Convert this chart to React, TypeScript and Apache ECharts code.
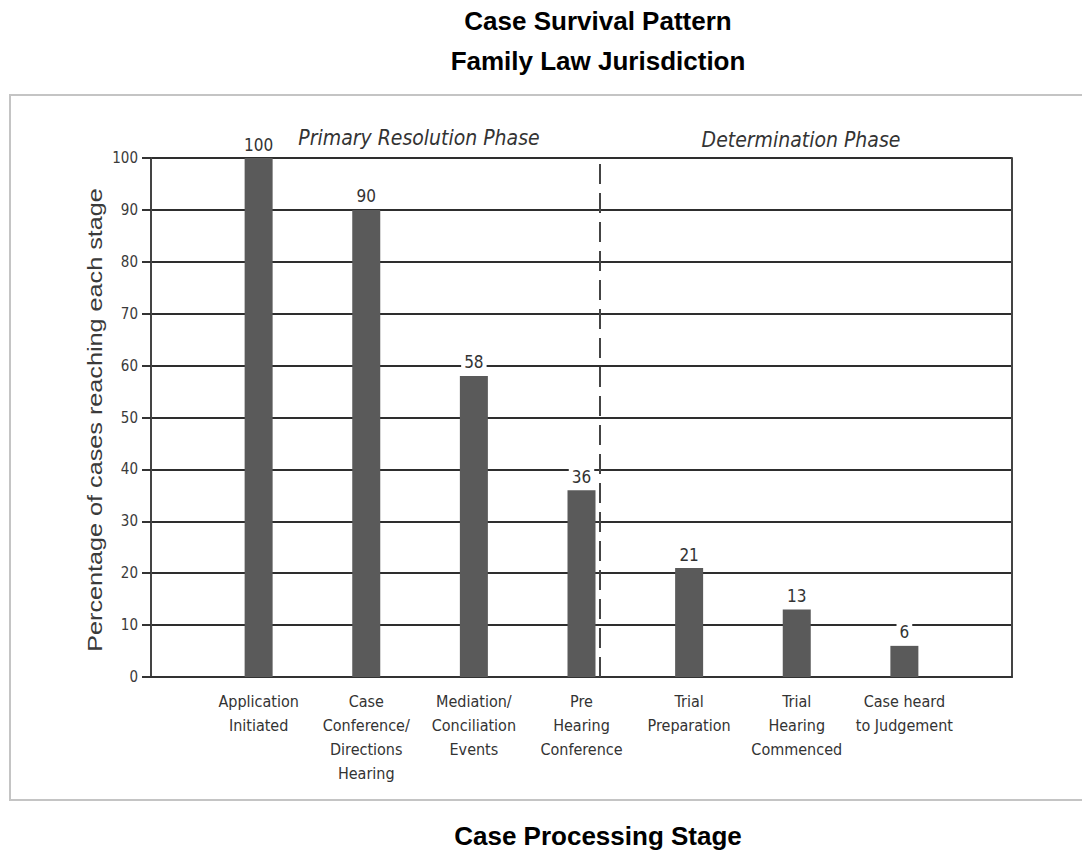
import React, { useEffect, useRef } from "react";
import * as echarts from "echarts";

const categories = [
  "Application\nInitiated",
  "Case\nConference/\nDirections\nHearing",
  "Mediation/\nConciliation\nEvents",
  "Pre\nHearing\nConference",
  "Trial\nPreparation",
  "Trial\nHearing\nCommenced",
  "Case heard\nto Judgement",
];
const values = [100, 90, 58, 36, 21, 13, 6];
const phaseLabels = ["Primary Resolution Phase", "Determination Phase"];
const phaseBoundary = 4.17;
const titleLines = ["Case Survival Pattern", "Family Law Jurisdiction"];
const xTitle = "Case Processing Stage";
const yTitle = "Percentage of cases reaching each stage";

const NARROW = '"DejaVu Sans Condensed", "Liberation Sans Narrow", "Liberation Sans", Arial, sans-serif';
const SANS = '"Liberation Sans", Arial, Helvetica, sans-serif';

export default function App() {
  const ref = useRef<HTMLDivElement>(null);
  useEffect(() => {
    if (!ref.current) return;
    const chart = echarts.init(ref.current, undefined, { renderer: "svg" });
    const barData = values.map((v, i) => [i + 1, v]);
    chart.setOption({
      animation: false,
      backgroundColor: "#ffffff",
      grid: { left: 151, right: 70, top: 158, bottom: 175, containLabel: false },
      xAxis: {
        type: "value",
        min: 0,
        max: categories.length + 1,
        interval: 1,
        axisLine: { show: true, lineStyle: { color: "#333", width: 2 } },
        axisTick: { show: false },
        splitLine: { show: false },
        axisLabel: {
          margin: 12,
          fontFamily: NARROW,
          fontSize: 16,
          lineHeight: 24,
          color: "#333",
          verticalAlign: "top",
          formatter: (v: number) => (v >= 1 && v <= categories.length ? categories[v - 1] : ""),
        },
      },
      yAxis: [
        {
          type: "value",
          min: 0,
          max: 100,
          interval: 10,
          axisLine: { show: true, lineStyle: { color: "#444", width: 2 } },
          axisTick: { show: true, length: 9, inside: false, lineStyle: { color: "#333", width: 2 } },
          axisLabel: { margin: 13, fontFamily: NARROW, fontSize: 15, color: "#3a3a3a" },
          splitLine: { show: true, lineStyle: { color: "#2e2e2e", width: 2 } },
        },
        {
          type: "value",
          position: "right",
          min: 0,
          max: 100,
          interval: 10,
          axisLine: { show: true, lineStyle: { color: "#444", width: 2 } },
          axisTick: { show: false },
          axisLabel: { show: false },
          splitLine: { show: false },
        },
      ],
      series: [
        {
          type: "bar",
          data: barData,
          barWidth: 28,
          itemStyle: { color: "#5a5a5a" },
          label: {
            show: true,
            position: "top",
            distance: 5,
            fontFamily: NARROW,
            fontSize: 17,
            color: "#333",
            backgroundColor: "#ffffff",
            padding: [0, 3, 0, 3],
            formatter: (p: any) => String(p.value[1]),
          },
          markLine: {
            silent: true,
            symbol: ["none", "none"],
            label: { show: false },
            lineStyle: { color: "#444", width: 2, type: [20, 9] },
            data: [{ xAxis: phaseBoundary }],
          },
        },
      ],
      graphic: [
        {
          type: "rect",
          silent: true,
          z: -10,
          shape: { x: 10, y: 95, width: 1100, height: 705 },
          style: { fill: "none", stroke: "#c4c4c4", lineWidth: 2 },
        },
        {
          type: "text",
          x: 95,
          y: 420,
          rotation: Math.PI / 2,
          scaleX: 1.2,
          scaleY: 1,
          style: { text: yTitle, font: `21px ${SANS}`, fill: "#3a3a3a", textAlign: "center", textVerticalAlign: "middle" },
        },
        {
          type: "text",
          x: 598,
          y: 21,
          style: { text: titleLines[0], font: `bold 26px ${SANS}`, fill: "#000", textAlign: "center", textVerticalAlign: "middle" },
        },
        {
          type: "text",
          x: 598,
          y: 61,
          style: { text: titleLines[1], font: `bold 26px ${SANS}`, fill: "#000", textAlign: "center", textVerticalAlign: "middle" },
        },
        {
          type: "text",
          x: 598,
          y: 836,
          style: { text: xTitle, font: `bold 26px ${SANS}`, fill: "#000", textAlign: "center", textVerticalAlign: "middle" },
        },
        {
          type: "text",
          x: 419,
          y: 138,
          style: { text: phaseLabels[0], font: `italic 21px ${NARROW}`, fill: "#333", textAlign: "center", textVerticalAlign: "middle" },
        },
        {
          type: "text",
          x: 801,
          y: 140,
          style: { text: phaseLabels[1], font: `italic 21px ${NARROW}`, fill: "#333", textAlign: "center", textVerticalAlign: "middle" },
        },
      ],
    });
    return () => chart.dispose();
  }, []);
  return (
    <div
      ref={ref}
      style={{ position: "absolute", left: 0, top: 0, width: 1082, height: 852 }}
    />
  );
}
